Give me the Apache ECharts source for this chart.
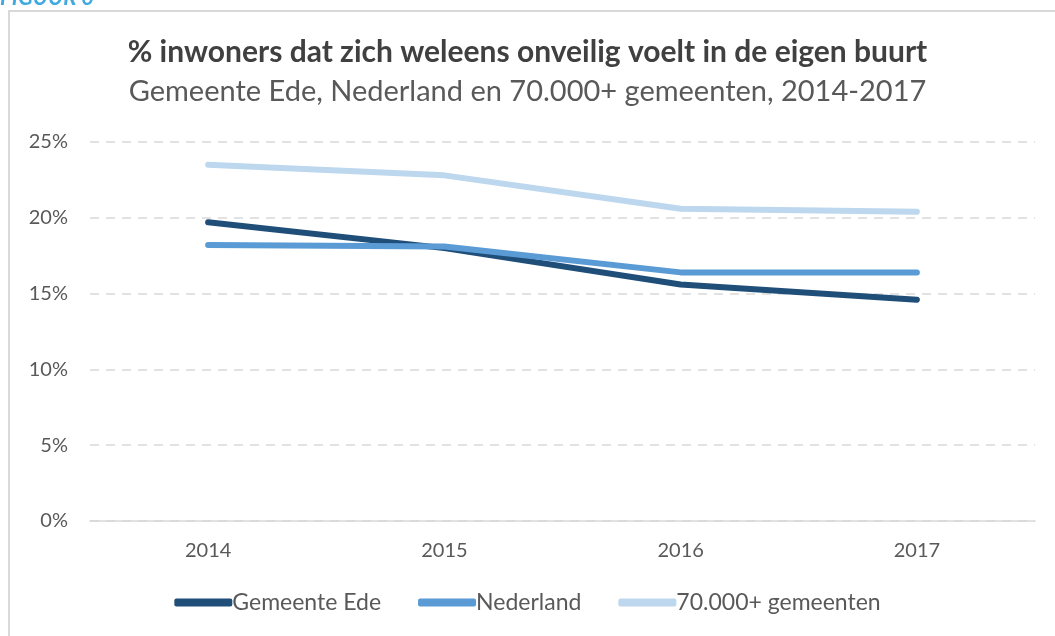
<!DOCTYPE html>
<html>
<head>
<meta charset="utf-8">
<script src="https://cdn.jsdelivr.net/npm/echarts@6/dist/echarts.min.js"></script>
<style>
  html, body { margin: 0; padding: 0; background: #fff; }
  #chart { width: 1055px; height: 636px; }
</style>
</head>
<body>
<div id="chart"></div>
<script>
// jaren op de x-as
const years = ['2014', '2015', '2016', '2017'];
// percentages per reeks
const ede = [19.7, 18.0, 15.6, 14.6];
const nederland = [18.2, 18.1, 16.4, 16.4];
const gemeenten70k = [23.5, 22.8, 20.6, 20.4];
const seriesNames = ['Gemeente Ede', 'Nederland', '70.000+ gemeenten'];

const chart = echarts.init(document.getElementById('chart'));
const font = 'Lato, "Open Sans", sans-serif';

function lineSeries(name, data, color) {
    return {
        name: name,
        type: 'line',
        data: data,
        symbol: 'none',
        lineStyle: { color: color, width: 6, cap: 'round', join: 'round' },
        itemStyle: { color: color }
    };
}

chart.setOption({
    animation: false,
    textStyle: { fontFamily: font },
    graphic: [
        {
            type: 'rect',
            shape: { x: 9, y: 11, width: 1060, height: 640 },
            style: { fill: 'none', stroke: '#d9d9d9', lineWidth: 2 }
        },
        {
            type: 'text',
            left: 0,
            top: -13,
            style: { text: 'FIGUUR 6', fill: '#3fa9e0', font: 'bold italic 22px ' + font }
        }
    ],
    title: {
        text: '% inwoners dat zich weleens onveilig voelt in de eigen buurt',
        subtext: 'Gemeente Ede, Nederland en 70.000+ gemeenten, 2014-2017',
        left: 'center',
        top: 32,
        itemGap: 10,
        textStyle: { fontSize: 30, fontWeight: 'bold', color: '#404040', fontFamily: font },
        subtextStyle: { fontSize: 29, color: '#595959', fontFamily: font }
    },
    legend: {
        bottom: 17,
        left: 'center',
        icon: 'roundRect',
        itemWidth: 58,
        itemHeight: 8,
        itemGap: 37,
        textStyle: { fontSize: 23, color: '#595959', padding: [0, 0, 0, -5] },
        data: seriesNames
    },
    grid: { left: 90, right: 20, top: 142, bottom: 115, containLabel: false },
    xAxis: {
        type: 'category',
        data: years,
        boundaryGap: true,
        axisLine: { lineStyle: { color: '#d9d9d9', width: 1.5 } },
        axisTick: { show: false },
        axisLabel: { fontSize: 20, color: '#595959', margin: 20 }
    },
    yAxis: {
        type: 'value',
        min: 0,
        max: 25,
        interval: 5,
        axisLine: { show: false },
        axisTick: { show: false },
        axisLabel: { fontSize: 20, color: '#595959', margin: 22, formatter: '{value}%' },
        splitLine: { lineStyle: { color: '#d9d9d9', width: 1.5, type: [9, 7] } }
    },
    series: [
        lineSeries(seriesNames[0], ede, '#1f4e79'),
        lineSeries(seriesNames[1], nederland, '#5b9bd5'),
        lineSeries(seriesNames[2], gemeenten70k, '#bdd7ee')
    ]
});
</script>
</body>
</html>
